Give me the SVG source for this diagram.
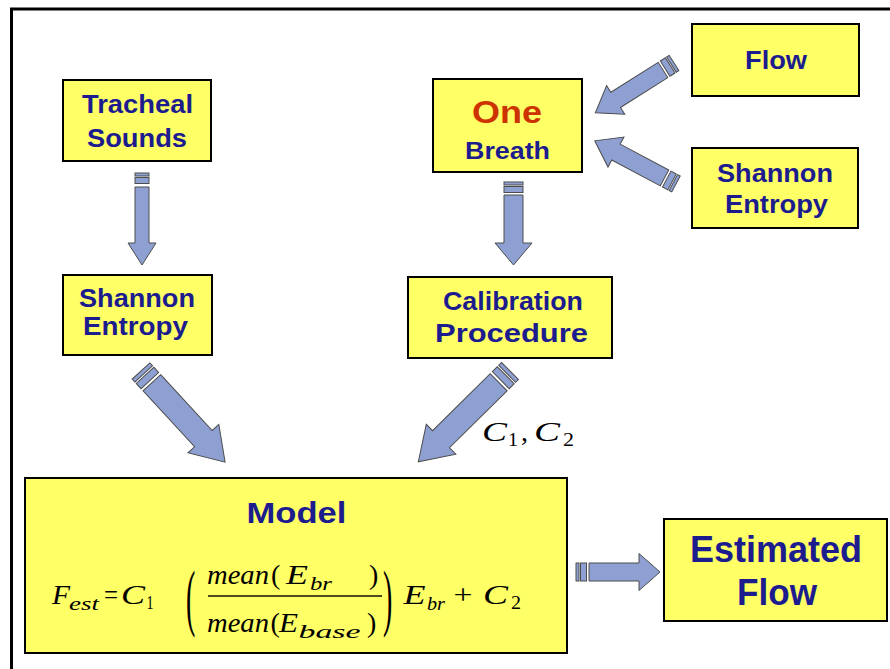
<svg xmlns="http://www.w3.org/2000/svg" width="890" height="669" viewBox="0 0 890 669">
<style>
.box{fill:#FFFF66;stroke:#000;stroke-width:2}
.lbl{font-family:"Liberation Sans",Arial,sans-serif;font-weight:bold;fill:#1C1C8F;text-anchor:middle}
.arr{fill:#8EA0D2;stroke:#4D4D4D;stroke-width:1;stroke-linejoin:miter}
.m{font-family:"Liberation Serif","DejaVu Serif",serif;fill:#000;font-size:28px}
.mi{font-style:italic}
.ms{font-family:"Liberation Serif","DejaVu Serif",serif;font-style:italic;fill:#000;font-size:19px}
.mn{font-family:"Liberation Serif","DejaVu Serif",serif;fill:#000;font-size:19px}
</style>
<rect x="0" y="0" width="890" height="669" fill="#fff"/>
<rect x="11.5" y="9" width="900" height="700" fill="#fff" stroke="#000" stroke-width="3"/>

<g id="connectors">
  <g transform="translate(142,173) rotate(90)">
    <rect class="arr" x="0" y="-7" width="3" height="14"/><rect class="arr" x="4.5" y="-7" width="6" height="14"/>
    <path class="arr" d="M14,-7 H70 V-14 L92,0 L70,14 V7 H14 Z"/>
  </g>
  <g transform="translate(513.5,182) rotate(90)">
    <rect class="arr" x="0" y="-9.5" width="3" height="19"/><rect class="arr" x="4.5" y="-9.5" width="6" height="19"/>
    <path class="arr" d="M13,-9.5 H61 V-18.5 L83,0 L61,18.5 V9.5 H13 Z"/>
  </g>
  <g transform="translate(674,63) rotate(147.7)">
    <rect class="arr" x="0" y="-9" width="3" height="18"/><rect class="arr" x="4.5" y="-9" width="6" height="18"/>
    <path class="arr" d="M13,-9 H69 V-17 L93,0 L69,17 V9 H13 Z"/>
  </g>
  <g transform="translate(676,184) rotate(-152)">
    <rect class="arr" x="0" y="-9" width="3" height="18"/><rect class="arr" x="4.5" y="-9" width="6" height="18"/>
    <path class="arr" d="M13,-9 H68 V-17 L92,0 L68,17 V9 H13 Z"/>
  </g>
  <g transform="translate(141,371) rotate(47.3)">
    <rect class="arr" x="0" y="-12" width="4" height="24"/><rect class="arr" x="6" y="-12" width="7" height="24"/>
    <path class="arr" d="M16,-12 H92 V-21 L124,0 L92,21 V12 H16 Z"/>
  </g>
  <g transform="translate(510,371) rotate(135.3)">
    <rect class="arr" x="0" y="-12" width="4" height="24"/><rect class="arr" x="6" y="-12" width="7" height="24"/>
    <path class="arr" d="M16,-12 H97 V-21 L129,0 L97,21 V12 H16 Z"/>
  </g>
  <g transform="translate(576,572)">
    <rect class="arr" x="0" y="-9" width="3" height="18"/><rect class="arr" x="4.5" y="-9" width="6" height="18"/>
    <path class="arr" d="M13,-9 H63 V-18.5 L84,0 L63,18.5 V9 H13 Z"/>
  </g>
  <g id="label-c1c2">
    <text class="m mi" font-size="29" x="482" y="441" textLength="25" lengthAdjust="spacingAndGlyphs">C</text>
    <text class="mn" x="508" y="446" textLength="10" lengthAdjust="spacingAndGlyphs">1</text>
    <text class="m" x="521" y="441">,</text>
    <text class="m mi" font-size="29" x="534" y="441" textLength="26" lengthAdjust="spacingAndGlyphs">C</text>
    <text class="mn" x="563" y="446" textLength="11" lengthAdjust="spacingAndGlyphs">2</text>
  </g>
</g>

<g id="tracheal">
  <rect class="box" x="63" y="80" width="148" height="81"/>
  <text class="lbl" font-size="25" x="137.5" y="113" textLength="111" lengthAdjust="spacingAndGlyphs">Tracheal</text>
  <text class="lbl" font-size="25" x="137" y="147" textLength="100" lengthAdjust="spacingAndGlyphs">Sounds</text>
</g>
<g id="shannon-left">
  <rect class="box" x="63" y="275" width="149" height="80"/>
  <text class="lbl" font-size="25" x="137" y="307" textLength="116" lengthAdjust="spacingAndGlyphs">Shannon</text>
  <text class="lbl" font-size="25" x="135.5" y="335" textLength="105" lengthAdjust="spacingAndGlyphs">Entropy</text>
</g>
<g id="one-breath">
  <rect class="box" x="433" y="79" width="149" height="93"/>
  <text class="lbl" font-size="31" x="507" y="123" style="fill:#CC3300" textLength="70" lengthAdjust="spacingAndGlyphs">One</text>
  <text class="lbl" font-size="24" x="507.5" y="159" textLength="85" lengthAdjust="spacingAndGlyphs">Breath</text>
</g>
<g id="calibration">
  <rect class="box" x="408" y="277" width="204" height="81"/>
  <text class="lbl" font-size="25" x="513" y="310" textLength="140" lengthAdjust="spacingAndGlyphs">Calibration</text>
  <text class="lbl" font-size="25" x="511.5" y="342" textLength="153" lengthAdjust="spacingAndGlyphs">Procedure</text>
</g>
<g id="flow">
  <rect class="box" x="692" y="24" width="167" height="72"/>
  <text class="lbl" font-size="25" x="776" y="69" textLength="62" lengthAdjust="spacingAndGlyphs">Flow</text>
</g>
<g id="shannon-right">
  <rect class="box" x="692" y="148" width="166" height="80"/>
  <text class="lbl" font-size="25" x="775" y="182" textLength="116" lengthAdjust="spacingAndGlyphs">Shannon</text>
  <text class="lbl" font-size="25" x="776.5" y="213" textLength="103" lengthAdjust="spacingAndGlyphs">Entropy</text>
</g>
<g id="model">
  <rect class="box" x="25" y="478" width="542" height="175"/>
  <text class="lbl" font-size="30" x="296.5" y="523" textLength="100" lengthAdjust="spacingAndGlyphs">Model</text>
  <text class="m mi" x="52" y="604" textLength="18" lengthAdjust="spacingAndGlyphs">F</text>
  <text class="ms" x="69" y="610" textLength="30" lengthAdjust="spacingAndGlyphs">est</text>
  <text class="m" x="104" y="604" textLength="14" lengthAdjust="spacingAndGlyphs">=</text>
  <text class="m mi" x="121" y="604" textLength="24" lengthAdjust="spacingAndGlyphs">C</text>
  <text class="mn" x="146.5" y="609" textLength="7" lengthAdjust="spacingAndGlyphs">1</text>
  <text class="m" font-size="40" transform="translate(186,622) scale(1,2.68)">(</text>
  <text class="m mi" x="207" y="584" textLength="62" lengthAdjust="spacingAndGlyphs">mean</text>
  <text class="m" x="271" y="584">(</text>
  <text class="m mi" x="286" y="584" textLength="22" lengthAdjust="spacingAndGlyphs">E</text>
  <text class="ms" x="310" y="590" textLength="22" lengthAdjust="spacingAndGlyphs">br</text>
  <text class="m" x="369" y="584">)</text>
  <rect x="208" y="595.3" width="174" height="1.4" fill="#000"/>
  <text class="m mi" x="207" y="632" textLength="62" lengthAdjust="spacingAndGlyphs">mean</text>
  <text class="m" x="270.5" y="632">(</text>
  <text class="m mi" x="279" y="632" textLength="19" lengthAdjust="spacingAndGlyphs">E</text>
  <text class="ms" x="298.5" y="638" textLength="62" lengthAdjust="spacingAndGlyphs">base</text>
  <text class="m" x="367" y="632">)</text>
  <text class="m" font-size="40" transform="translate(383,622) scale(1,2.68)">)</text>
  <text class="m mi" x="403.5" y="604" textLength="22" lengthAdjust="spacingAndGlyphs">E</text>
  <text class="ms" x="427" y="610" textLength="18" lengthAdjust="spacingAndGlyphs">br</text>
  <text class="m" x="453.5" y="604" textLength="19" lengthAdjust="spacingAndGlyphs">+</text>
  <text class="m mi" x="483" y="604" textLength="25" lengthAdjust="spacingAndGlyphs">C</text>
  <text class="mn" x="511" y="609" textLength="10" lengthAdjust="spacingAndGlyphs">2</text>
</g>
<g id="estimated-flow">
  <rect class="box" x="664" y="519" width="223" height="102"/>
  <text class="lbl" font-size="36" x="776" y="562" textLength="172" lengthAdjust="spacingAndGlyphs">Estimated</text>
  <text class="lbl" font-size="36" x="777" y="605" textLength="80" lengthAdjust="spacingAndGlyphs">Flow</text>
</g>
</svg>
